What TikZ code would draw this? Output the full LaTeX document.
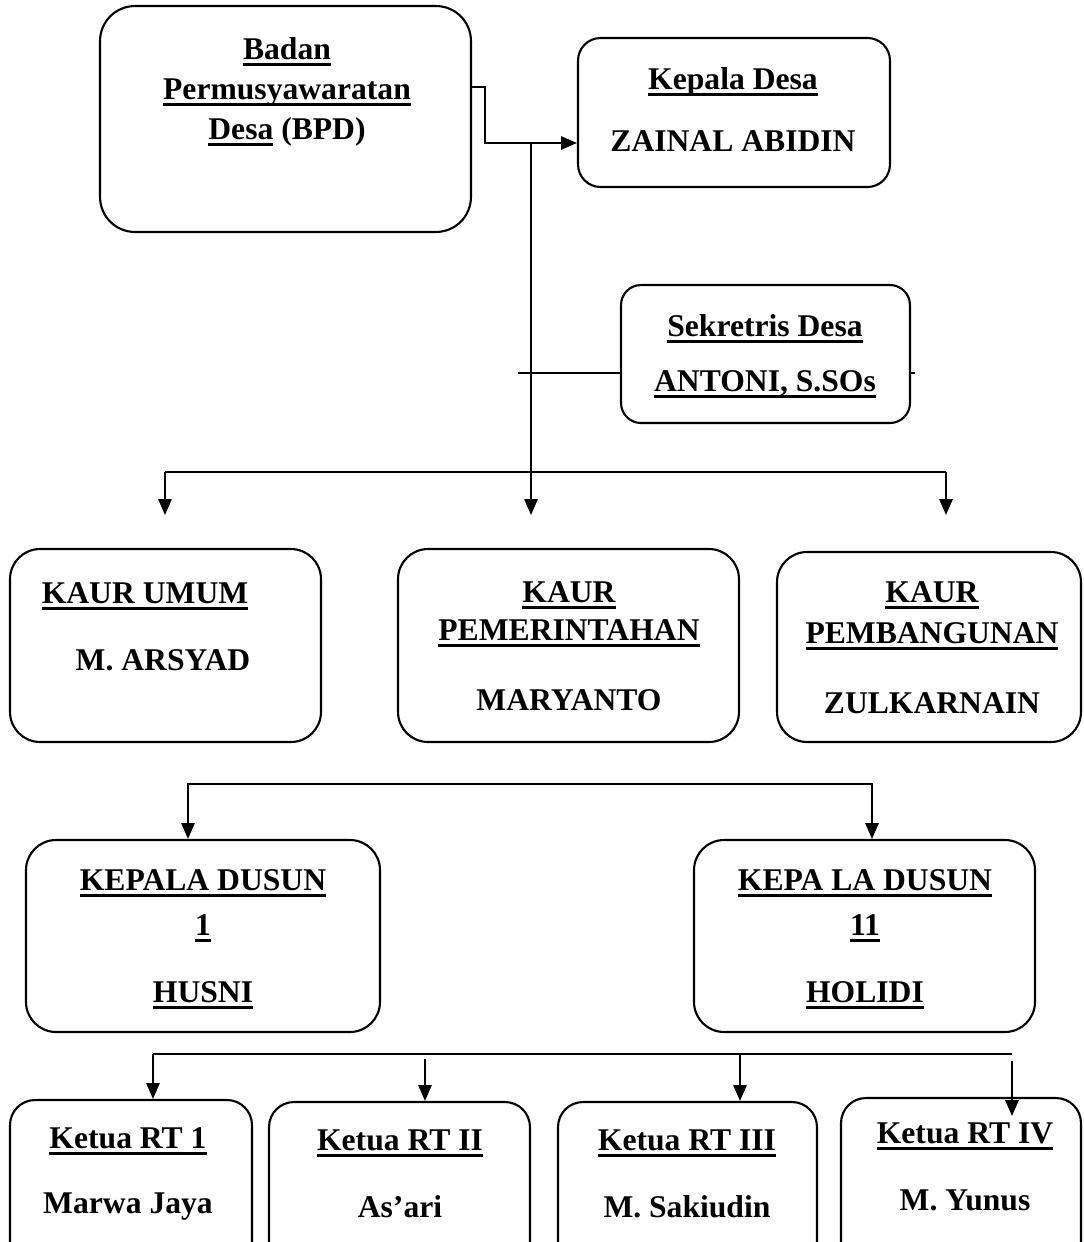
\documentclass[tikz,border=0pt]{standalone}
\usepackage{fontspec}
\setmainfont{Liberation Serif}
\usetikzlibrary{arrows.meta}
\newcommand{\undl}[1]{\setbox0=\hbox{#1}\rlap{\rule[-3.4pt]{\wd0}{1.6pt}}\box0\relax}
\tikzset{%
  orgbox/.style  = {shape=rectangle, rounded corners=0.5cm, draw,%
                    line width=1.2pt, inner sep=0pt},%
  orgtext/.style = {align=center, inner sep=0pt, anchor=north,%
                    font=\fontsize{18}{22}\selectfont\bfseries},%
  link/.style    = {line width=1.1pt},%
  arr/.style     = {link, -{Triangle[width=7.5pt,length=9pt]}}%
}
\begin{document}
\begin{tikzpicture}[x=0.02cm, y=-0.02cm]
  \useasboundingbox (0,0) rectangle (1083,1242);
  \clip (0,0) rectangle (1083,1242);
  % boxes
  \node[orgbox, rounded corners=0.7cm, minimum width=7.42cm, minimum height=4.52cm] (bpd) at (285.5,119) {};
  \node[orgbox, rounded corners=0.45cm, minimum width=6.24cm, minimum height=2.98cm] (kades) at (734,112.5) {};
  \node[orgbox, rounded corners=0.4cm, minimum width=5.78cm, minimum height=2.76cm] (sekdes) at (765.5,354) {};
  \node[orgbox, rounded corners=0.6cm, minimum width=6.22cm, minimum height=3.86cm] (kaurum) at (165.5,645.5) {};
  \node[orgbox, rounded corners=0.6cm, minimum width=6.82cm, minimum height=3.86cm] (kaurpem) at (568.5,645.5) {};
  \node[orgbox, rounded corners=0.6cm, minimum width=6.08cm, minimum height=3.80cm] (kaurbang) at (929,647) {};
  \node[orgbox, rounded corners=0.6cm, minimum width=7.08cm, minimum height=3.84cm] (kadus1) at (203,936) {};
  \node[orgbox, rounded corners=0.6cm, minimum width=6.82cm, minimum height=3.84cm] (kadus2) at (864.5,936) {};
  \node[orgbox, minimum width=4.84cm, minimum height=3.5cm] (rt1) at (131,1187.5) {};
  \node[orgbox, minimum width=5.22cm, minimum height=3.5cm] (rt2) at (399.5,1189.5) {};
  \node[orgbox, minimum width=5.18cm, minimum height=3.5cm] (rt3) at (687.5,1189.5) {};
  \node[orgbox, minimum width=4.80cm, minimum height=3.5cm] (rt4) at (961,1185.5) {};
  % texts
  \node[orgtext] (bpdtxt) at (287,37.5) {\undl{Badan}\\[0.8pt] \undl{Permusyawaratan}\\[0.8pt] \undl{Desa} (BPD)};
  \node[orgtext] (kadestxt) at (733,67.5) {\undl{Kepala Desa}\\[13.3pt] ZAINAL ABIDIN};
  \node[orgtext] (sekdestxt) at (765,314.5) {\undl{Sekretris Desa}\\[9.3pt] \undl{ANTONI, S.SOs}};
  \node[orgtext] (kaurumtxt) at (154,582.5) {\undl{KAUR UMUM}\hspace*{0.36cm}\\[16.1pt] \hspace*{0.36cm}M. ARSYAD};
  \node[orgtext] (kaurpemtxt) at (569,581.5) {\undl{KAUR}\\[-0.4pt] \undl{PEMERINTAHAN}\\[17.8pt] MARYANTO};
  \node[orgtext] (kaurbangtxt) at (932,581.5) {\undl{KAUR}\\[1.3pt] \undl{PEMBANGUNAN}\\[17.8pt] ZULKARNAIN};
  \node[orgtext] (kadus1txt) at (203,869.5) {\undl{KEPALA DUSUN}\\[3.6pt] \undl{1}\\[16.1pt] \undl{HUSNI}};
  \node[orgtext] (kadus2txt) at (865,869.5) {\undl{KEPA LA DUSUN}\\[3.6pt] \undl{11}\\[16.1pt] \undl{HOLIDI}};
  \node[orgtext] (rt1txt) at (128,1127.5) {\undl{Ketua RT 1}\\[15pt] Marwa Jaya};
  \node[orgtext] (rt2txt) at (400,1129.5) {\undl{Ketua RT II}\\[16.1pt] As’ari};
  \node[orgtext] (rt3txt) at (687,1129.5) {\undl{Ketua RT III}\\[16.1pt] M. Sakiudin};
  \node[orgtext] (rt4txt) at (965,1122.5) {\undl{Ketua RT IV}\\[16.1pt] M. Yunus};
  % connectors
  \coordinate (bj1) at (485,87);
  \coordinate (bj2) at (485,143);
  \coordinate (kj) at (531,143);
  \coordinate (kaurmid) at (531,515);
  \draw[arr] (bpd.east |- bj1) -- (bj1) -- (bj2) -- (kades.west |- bj2);
  \draw[arr] (kj) -- (kaurmid);
  \coordinate (sl) at (518,373);
  \coordinate (sr) at (915,373);
  \draw[link] (sl) -- (sekdes.west |- sl);
  \draw[link] (sekdes.east |- sr) -- (sr);
  \coordinate (kl) at (165,472);
  \coordinate (kr) at (946,472);
  \coordinate (kla) at (165,515);
  \coordinate (kra) at (946,515);
  \draw[link] (kl) -- (kr);
  \draw[arr] (kl) -- (kla);
  \draw[arr] (kr) -- (kra);
  \coordinate (dl) at (188,784);
  \coordinate (dr) at (872,784);
  \draw[link, {Triangle[width=7.5pt,length=9pt]}-{Triangle[width=7.5pt,length=9pt]}]
    (kadus1.north -| dl) -- (dl) -- (dr) -- (kadus2.north -| dr);
  \coordinate (rl) at (153,1054);
  \coordinate (rr) at (1012,1054);
  \coordinate (r2) at (425,1059);
  \coordinate (r3) at (740,1054);
  \coordinate (r4) at (1012,1061);
  \coordinate (r4e) at (1012,1116);
  \draw[link] (rl) -- (rr);
  \draw[arr] (rl) -- (rt1.north -| rl);
  \draw[arr] (r2) -- (rt2.north -| r2);
  \draw[arr] (r3) -- (rt3.north -| r3);
  \draw[arr] (r4) -- (r4e);
\end{tikzpicture}
\end{document}
